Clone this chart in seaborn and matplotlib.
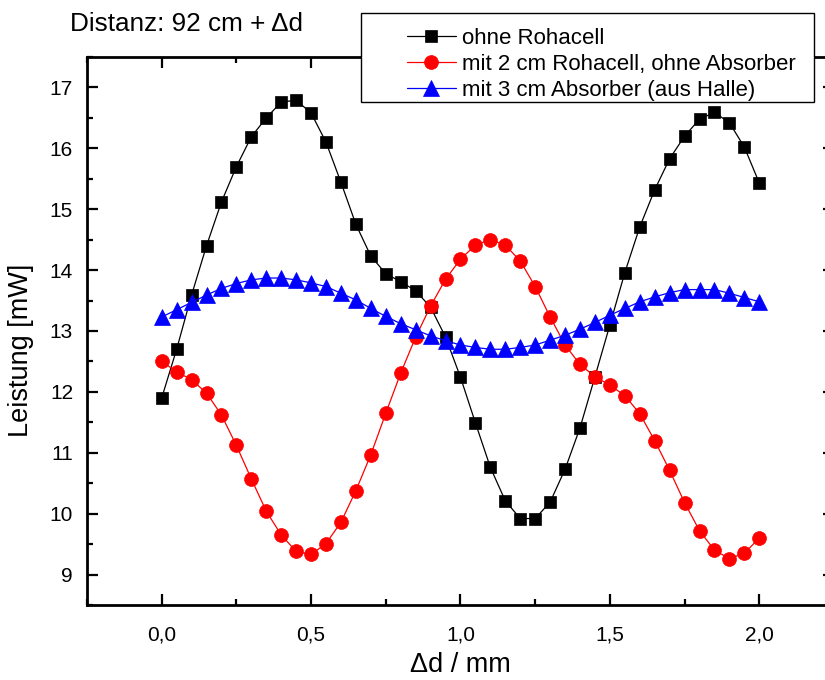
import numpy as np
import pandas as pd
import matplotlib
matplotlib.use("Agg")
import matplotlib.pyplot as plt
import seaborn as sns
from matplotlib.ticker import MultipleLocator, FuncFormatter
from matplotlib.patches import Rectangle

# ---- data ----
delta_d = [round(0.05 * i, 2) for i in range(41)]

ohne_rohacell = [11.90, 12.70, 13.59, 14.40, 15.12, 15.70, 16.19, 16.50, 16.76, 16.79,
                 16.58, 16.10, 15.44, 14.75, 14.23, 13.94, 13.81, 13.66, 13.39, 12.90,
                 12.24, 11.49, 10.76, 10.21, 9.92, 9.92, 10.19, 10.73, 11.41, 12.25,
                 13.10, 13.96, 14.71, 15.32, 15.83, 16.20, 16.48, 16.59, 16.42, 16.02,
                 15.43]

mit_rohacell = [12.50, 12.33, 12.20, 11.98, 11.62, 11.12, 10.57, 10.04, 9.65, 9.38,
                9.33, 9.51, 9.86, 10.38, 10.97, 11.65, 12.31, 12.90, 13.41, 13.85,
                14.18, 14.41, 14.50, 14.41, 14.15, 13.73, 13.23, 12.77, 12.45, 12.25,
                12.11, 11.94, 11.64, 11.20, 10.71, 10.18, 9.72, 9.40, 9.26, 9.35,
                9.60]

mit_absorber = [13.23, 13.35, 13.47, 13.59, 13.70, 13.78, 13.84, 13.87, 13.87, 13.84,
                13.79, 13.73, 13.62, 13.51, 13.37, 13.24, 13.12, 13.02, 12.92, 12.84,
                12.77, 12.73, 12.70, 12.70, 12.73, 12.77, 12.85, 12.93, 13.03, 13.14,
                13.26, 13.37, 13.48, 13.56, 13.63, 13.68, 13.68, 13.68, 13.62, 13.55,
                13.48]

series_names = ["ohne Rohacell",
                "mit 2 cm Rohacell, ohne Absorber",
                "mit 3 cm Absorber (aus Halle)"]
series_colors = ["#000000", "#FF0000", "#0000FF"]
series_markers = ["s", "o", "^"]
series_msize = [9, 10, 11]

title_text = "Distanz: 92 cm + \u0394d"
x_label = "\u0394d / mm"
y_label = "Leistung [mW]"

df = pd.DataFrame({
    "x": delta_d * 3,
    "y": ohne_rohacell + mit_rohacell + mit_absorber,
    "series": sum([[n] * len(delta_d) for n in series_names], []),
})

# ---- plotting ----
sns.set_theme(style="ticks")
plt.rcParams["font.family"] = ["Liberation Sans", "DejaVu Sans"]
plt.rcParams["text.color"] = "black"
plt.rcParams["xtick.labelcolor"] = "black"
plt.rcParams["ytick.labelcolor"] = "black"

W, H = 825, 680
fig = plt.figure(figsize=(W / 100, H / 100), dpi=100)
ax = fig.add_axes([87 / W, 1 - 605 / H, (834 - 87) / W, (605 - 57) / H])

for name, col, mk, ms in zip(series_names, series_colors, series_markers, series_msize):
    sub = df[df["series"] == name]
    sns.lineplot(data=sub, x="x", y="y", ax=ax, color=col, marker=mk,
                 markersize=ms, markeredgecolor=col, markeredgewidth=0.5,
                 linewidth=0.9, label=name, legend=False, zorder=3)

ax.set_xlim(-0.25, 2.25)
ax.set_ylim(8.5, 17.5)
ax.xaxis.set_major_locator(MultipleLocator(0.5))
ax.xaxis.set_minor_locator(MultipleLocator(0.25))
ax.yaxis.set_major_locator(MultipleLocator(1))
ax.yaxis.set_minor_locator(MultipleLocator(0.5))
ax.xaxis.set_major_formatter(FuncFormatter(lambda v, p: f"{v:.1f}".replace(".", ",")))
ax.yaxis.set_major_formatter(FuncFormatter(lambda v, p: f"{v:.0f}"))

ax.tick_params(which="both", direction="in", top=True, right=True,
               labelsize=15, width=1.6, color="black", labelcolor="black")
ax.tick_params(axis="x", which="major", pad=15)
ax.tick_params(axis="y", which="major", pad=10)
ax.tick_params(which="major", length=8)
ax.tick_params(which="minor", length=4.5)
for s in ax.spines.values():
    s.set_linewidth(2.0)
    s.set_color("black")

ax.set_xlabel("")
ax.set_ylabel("")
fig.text(460 / W, 1 - 665 / H, x_label, fontsize=19.5, ha="center", va="center",
         color="black")
fig.text(21 / W, 1 - 350 / H, y_label, fontsize=19.5, ha="center", va="center",
         rotation=90, color="black")

fig.text(70 / W, 1 - 24 / H, title_text, fontsize=18.8, ha="left", va="center",
         color="black")

# legend frame (white box overlapping the top spine)
frame = Rectangle((361 / W, 1 - 102 / H), (814 - 361) / W, (102 - 13) / H,
                  transform=fig.transFigure, facecolor="white", edgecolor="black",
                  linewidth=1.0, zorder=4)
fig.add_artist(frame)

handles, labels = ax.get_legend_handles_labels()
leg = fig.legend(handles, labels, loc="upper left",
                 bbox_to_anchor=(407 / W, 1 - 28 / H),
                 fontsize=16, frameon=False, handlelength=2.2, handletextpad=0.27,
                 labelspacing=0.22, borderpad=0, numpoints=1, borderaxespad=0,
                 labelcolor="black")
leg.set_zorder(5)

fig.savefig("out.png", dpi=100)
